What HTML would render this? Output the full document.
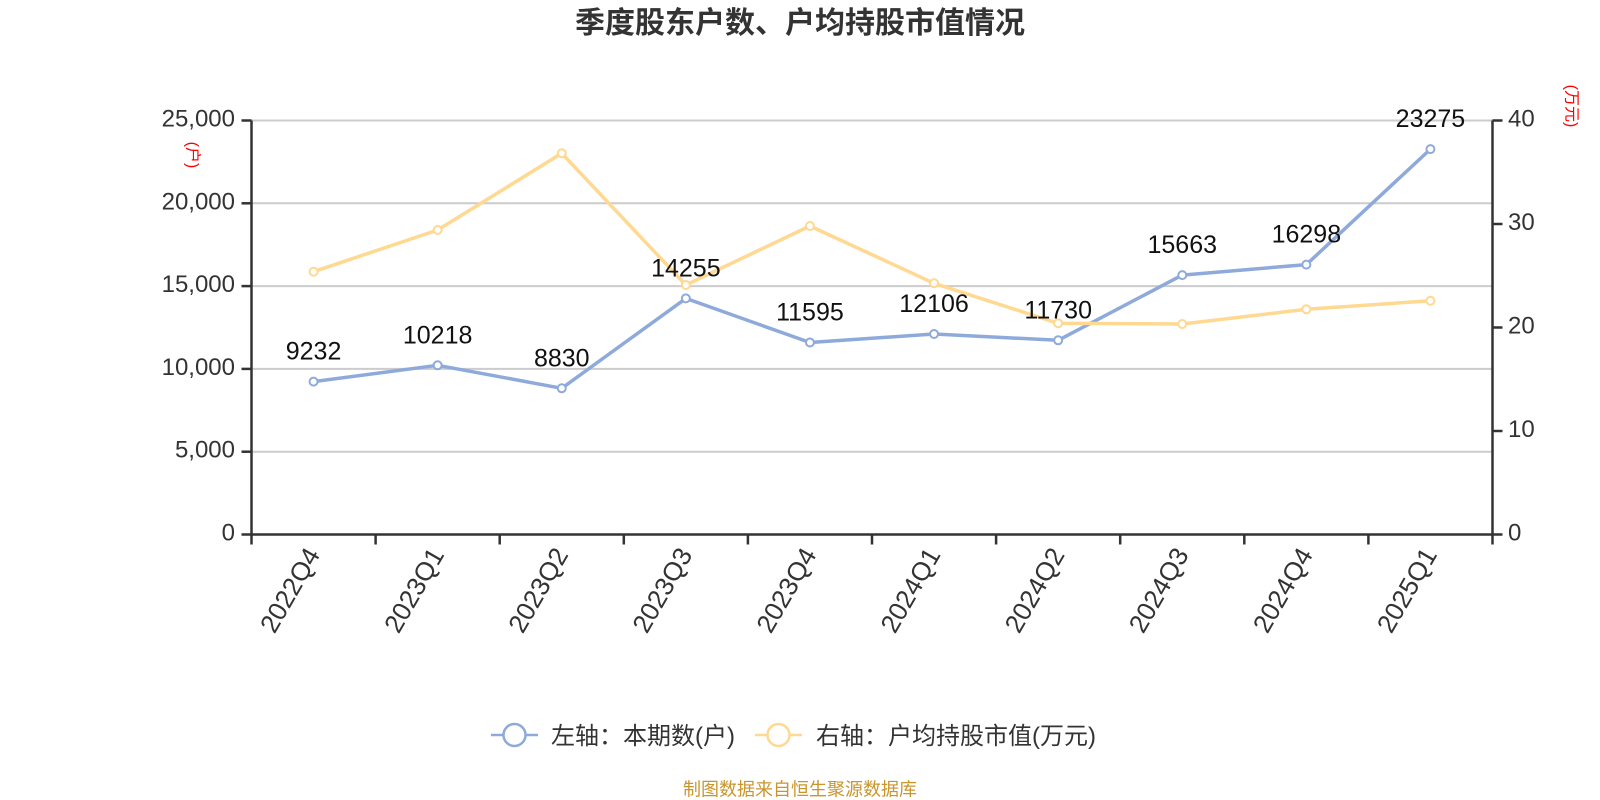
<!DOCTYPE html>
<html><head><meta charset="utf-8"><style>
html,body{margin:0;padding:0;background:#fff;width:1600px;height:800px;overflow:hidden}
svg{display:block}
text{font-family:"Liberation Sans","Noto Sans CJK SC",sans-serif}
</style></head><body>
<svg width="1600" height="800" viewBox="0 0 1600 800" xmlns="http://www.w3.org/2000/svg">
<rect width="1600" height="800" fill="#fff"/>
<text x="800" y="33" text-anchor="middle" font-size="30" font-weight="bold" fill="#333">季度股东户数、户均持股市值情况</text>

<!-- gridlines -->
<g stroke="#ccc" stroke-width="2">
<line x1="251.5" y1="120.5" x2="1492.5" y2="120.5"/>
<line x1="251.5" y1="203.3" x2="1492.5" y2="203.3"/>
<line x1="251.5" y1="286.1" x2="1492.5" y2="286.1"/>
<line x1="251.5" y1="368.9" x2="1492.5" y2="368.9"/>
<line x1="251.5" y1="451.7" x2="1492.5" y2="451.7"/>
</g>

<!-- axes -->
<g stroke="#333" stroke-width="2.5">
<line x1="251.5" y1="120.5" x2="251.5" y2="534.5"/>
<line x1="1492.5" y1="120.5" x2="1492.5" y2="534.5"/>
<line x1="241.5" y1="534.5" x2="1492.5" y2="534.5"/>
<line x1="241.5" y1="120.5" x2="251.5" y2="120.5"/>
<line x1="241.5" y1="203.3" x2="251.5" y2="203.3"/>
<line x1="241.5" y1="286.1" x2="251.5" y2="286.1"/>
<line x1="241.5" y1="368.9" x2="251.5" y2="368.9"/>
<line x1="241.5" y1="451.7" x2="251.5" y2="451.7"/>
<line x1="1492.5" y1="120.5" x2="1502.5" y2="120.5"/>
<line x1="1492.5" y1="224" x2="1502.5" y2="224"/>
<line x1="1492.5" y1="327.5" x2="1502.5" y2="327.5"/>
<line x1="1492.5" y1="431" x2="1502.5" y2="431"/>
<line x1="1492.5" y1="534.5" x2="1502.5" y2="534.5"/>
<line x1="251.5" y1="534.5" x2="251.5" y2="544.5"/>
<line x1="375.6" y1="534.5" x2="375.6" y2="544.5"/>
<line x1="499.7" y1="534.5" x2="499.7" y2="544.5"/>
<line x1="623.8" y1="534.5" x2="623.8" y2="544.5"/>
<line x1="747.9" y1="534.5" x2="747.9" y2="544.5"/>
<line x1="872" y1="534.5" x2="872" y2="544.5"/>
<line x1="996.1" y1="534.5" x2="996.1" y2="544.5"/>
<line x1="1120.2" y1="534.5" x2="1120.2" y2="544.5"/>
<line x1="1244.3" y1="534.5" x2="1244.3" y2="544.5"/>
<line x1="1368.4" y1="534.5" x2="1368.4" y2="544.5"/>
<line x1="1492.5" y1="534.5" x2="1492.5" y2="544.5"/>
</g>

<!-- left labels -->
<g font-size="24" fill="#333" text-anchor="end">
<text x="235" y="126.5">25,000</text>
<text x="235" y="209.3">20,000</text>
<text x="235" y="292.1">15,000</text>
<text x="235" y="374.9">10,000</text>
<text x="235" y="457.7">5,000</text>
<text x="235" y="540.5">0</text>
</g>
<!-- right labels -->
<g font-size="24" fill="#333" text-anchor="start">
<text x="1508" y="126.5">40</text>
<text x="1508" y="230">30</text>
<text x="1508" y="333.5">20</text>
<text x="1508" y="437">10</text>
<text x="1508" y="540.5">0</text>
</g>

<!-- axis names -->
<text font-size="16" fill="#f00" text-anchor="middle" dominant-baseline="central" transform="translate(192,155) rotate(90)">(户)</text>
<text font-size="16" fill="#f00" text-anchor="middle" dominant-baseline="central" transform="translate(1571,106) rotate(90)">(万元)</text>

<!-- x labels -->
<g font-size="26" fill="#333" text-anchor="end" dominant-baseline="central">
<text transform="translate(313,550) rotate(-60)">2022Q4</text>
<text transform="translate(437.1,550) rotate(-60)">2023Q1</text>
<text transform="translate(561.2,550) rotate(-60)">2023Q2</text>
<text transform="translate(685.3,550) rotate(-60)">2023Q3</text>
<text transform="translate(809.4,550) rotate(-60)">2023Q4</text>
<text transform="translate(933.5,550) rotate(-60)">2024Q1</text>
<text transform="translate(1057.6,550) rotate(-60)">2024Q2</text>
<text transform="translate(1181.7,550) rotate(-60)">2024Q3</text>
<text transform="translate(1305.8,550) rotate(-60)">2024Q4</text>
<text transform="translate(1429.9,550) rotate(-60)">2025Q1</text>
</g>

<!-- blue series -->
<polyline fill="none" stroke="#8eaadb" stroke-width="3.5" stroke-linejoin="round"
points="313.55,381.6 437.65,365.3 561.75,388.3 685.85,298.4 809.95,342.5 934.05,334 1058.15,340.3 1182.25,275.1 1306.35,264.6 1430.45,149.1"/>
<g fill="#fff" stroke="#8eaadb" stroke-width="2">
<circle cx="313.55" cy="381.6" r="4"/><circle cx="437.65" cy="365.3" r="4"/><circle cx="561.75" cy="388.3" r="4"/><circle cx="685.85" cy="298.4" r="4"/><circle cx="809.95" cy="342.5" r="4"/><circle cx="934.05" cy="334" r="4"/><circle cx="1058.15" cy="340.3" r="4"/><circle cx="1182.25" cy="275.1" r="4"/><circle cx="1306.35" cy="264.6" r="4"/><circle cx="1430.45" cy="149.1" r="4"/>
</g>

<!-- yellow series -->
<polyline fill="none" stroke="#ffd891" stroke-width="3.5" stroke-linejoin="round"
points="313.55,271.7 437.65,230 561.75,153.3 685.85,285 809.95,226 934.05,283.3 1058.15,323.3 1182.25,324 1306.35,309.3 1430.45,300.7"/>
<g fill="#fff" stroke="#ffd891" stroke-width="2">
<circle cx="313.55" cy="271.7" r="4"/><circle cx="437.65" cy="230" r="4"/><circle cx="561.75" cy="153.3" r="4"/><circle cx="685.85" cy="285" r="4"/><circle cx="809.95" cy="226" r="4"/><circle cx="934.05" cy="283.3" r="4"/><circle cx="1058.15" cy="323.3" r="4"/><circle cx="1182.25" cy="324" r="4"/><circle cx="1306.35" cy="309.3" r="4"/><circle cx="1430.45" cy="300.7" r="4"/>
</g>

<!-- data labels -->
<g font-size="25" fill="#111" text-anchor="middle">
<text x="313.55" y="359.6">9232</text>
<text x="437.65" y="343.3">10218</text>
<text x="561.75" y="366.3">8830</text>
<text x="685.85" y="276.4">14255</text>
<text x="809.95" y="320.5">11595</text>
<text x="934.05" y="312">12106</text>
<text x="1058.15" y="318.3">11730</text>
<text x="1182.25" y="253.1">15663</text>
<text x="1306.35" y="242.6">16298</text>
<text x="1430.45" y="127.1">23275</text>
</g>

<!-- legend -->
<line x1="491" y1="735" x2="538" y2="735" stroke="#8eaadb" stroke-width="2.5"/>
<circle cx="514.5" cy="735" r="11" fill="#fff" stroke="#8eaadb" stroke-width="2.5"/>
<text x="551" y="744" font-size="24" fill="#333">左轴：本期数(户)</text>
<line x1="755" y1="735" x2="802" y2="735" stroke="#ffd891" stroke-width="2.5"/>
<circle cx="778.5" cy="735" r="11" fill="#fff" stroke="#ffd891" stroke-width="2.5"/>
<text x="816" y="744" font-size="24" fill="#333">右轴：户均持股市值(万元)</text>

<text x="800" y="795.5" font-size="18" fill="#c9952d" text-anchor="middle">制图数据来自恒生聚源数据库</text>
</svg>
</body></html>
